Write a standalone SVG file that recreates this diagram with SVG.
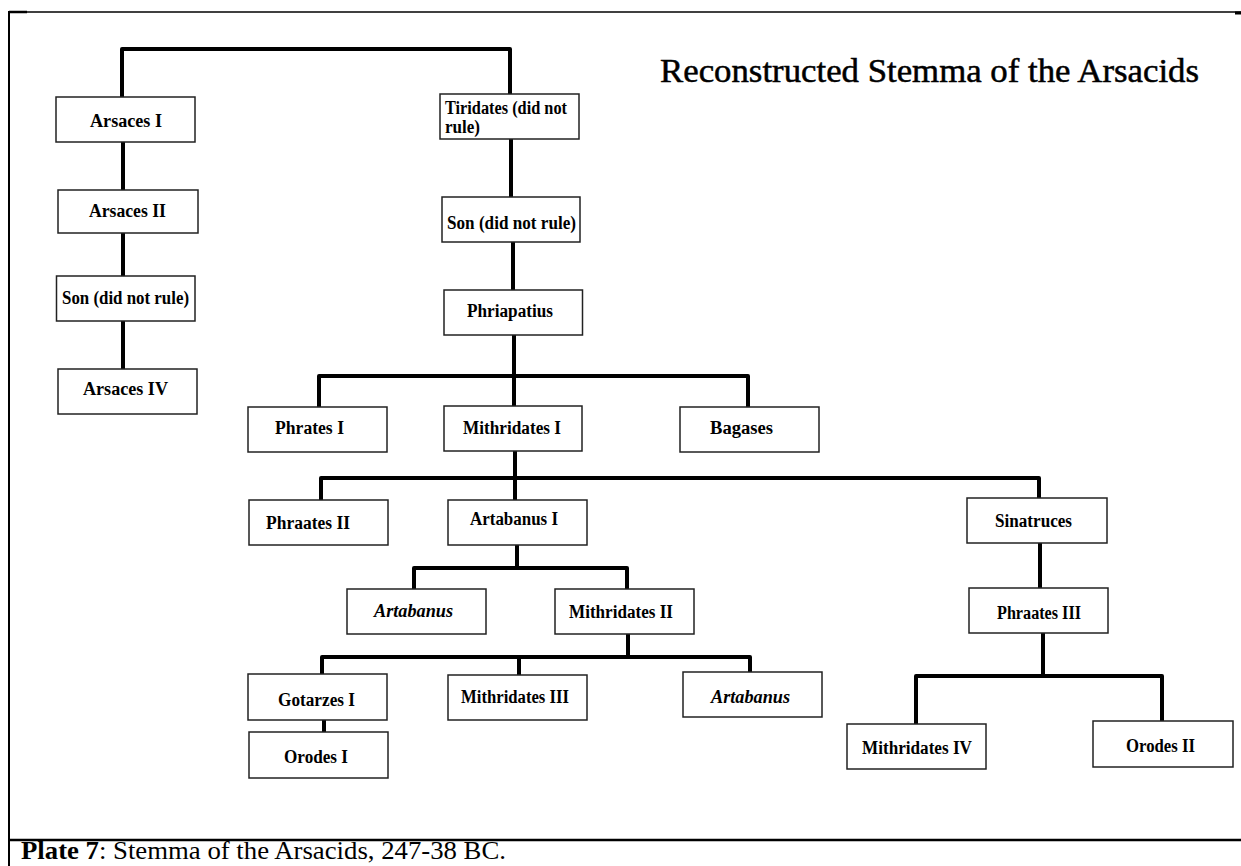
<svg xmlns="http://www.w3.org/2000/svg" width="1241" height="866" viewBox="0 0 1241 866">
<style>
.frame{stroke:#000;fill:none}
.box rect{fill:#fff;stroke:#222;stroke-width:1.5}
.box text{font-family:"Liberation Serif","Times New Roman",serif;font-weight:bold;font-size:18px;fill:#000}
.box text.it{font-style:italic}
.conn path{fill:none;stroke:#000;stroke-width:4;stroke-linejoin:round;stroke-linecap:butt}
.title{font-family:"Liberation Serif","Times New Roman",serif;font-size:33px;fill:#000;stroke:#000;stroke-width:0.5}
.cap{font-family:"Liberation Serif","Times New Roman",serif;font-size:25px;fill:#000}
</style>
<rect x="0" y="0" width="1241" height="866" fill="#fff"/>
<g id="frame">
<line class="frame" x1="9" y1="12" x2="1241" y2="12" stroke-width="1.5"/>
<line class="frame" x1="9" y1="12" x2="27" y2="12" stroke-width="2.5"/>
<line class="frame" x1="1235" y1="13" x2="1241" y2="13" stroke-width="3"/>
<line class="frame" x1="9" y1="11" x2="9" y2="866" stroke-width="2"/>
<line class="frame" x1="8" y1="840" x2="1241" y2="840" stroke-width="2.5"/>
</g>
<text class="title" x="660" y="82" textLength="539" lengthAdjust="spacingAndGlyphs">Reconstructed Stemma of the Arsacids</text>
<g id="connectors" class="conn">
<path d="M122,97 V49 H510 V94"/>
<path d="M123,142 V190"/>
<path d="M123,233 V276"/>
<path d="M123,321 V369"/>
<path d="M511,139 V197"/>
<path d="M513,242 V290"/>
<path d="M514,335 V376"/>
<path d="M319,407 V376 H748 V407"/>
<path d="M514,376 V406"/>
<path d="M515,451 V478"/>
<path d="M321,500 V478 H1039 V498"/>
<path d="M515,478 V500"/>
<path d="M517,545 V568"/>
<path d="M414,589 V568 H627 V589"/>
<path d="M628,634 V657"/>
<path d="M322,674 V657 H750 V672"/>
<path d="M519,657 V675"/>
<path d="M324,720 V732"/>
<path d="M1040,543 V588"/>
<path d="M1043,633 V676"/>
<path d="M916,724 V676 H1162 V721"/>
</g>
<g id="arsaces-i" class="box"><rect x="56" y="97" width="139" height="45"/><text x="90" y="127" textLength="72" lengthAdjust="spacingAndGlyphs">Arsaces I</text></g>
<g id="arsaces-ii" class="box"><rect x="58" y="190" width="140" height="43"/><text x="89" y="217" textLength="77" lengthAdjust="spacingAndGlyphs">Arsaces II</text></g>
<g id="son-left" class="box"><rect x="56.5" y="276" width="138.5" height="45"/><text x="62" y="304" textLength="127" lengthAdjust="spacingAndGlyphs">Son (did not rule)</text></g>
<g id="arsaces-iv" class="box"><rect x="58" y="369" width="139" height="45"/><text x="83" y="395" textLength="85" lengthAdjust="spacingAndGlyphs">Arsaces IV</text></g>
<g id="tiridates" class="box"><rect x="440" y="94" width="139" height="45"/><text x="445" y="114" font-size="16" textLength="122" lengthAdjust="spacingAndGlyphs">Tiridates (did not</text><text x="445" y="133" font-size="16" textLength="35" lengthAdjust="spacingAndGlyphs">rule)</text></g>
<g id="son-right" class="box"><rect x="442" y="197" width="138" height="45"/><text x="447" y="229" textLength="129" lengthAdjust="spacingAndGlyphs">Son (did not rule)</text></g>
<g id="phriapatius" class="box"><rect x="444" y="290" width="138.5" height="45"/><text x="467" y="317" textLength="86" lengthAdjust="spacingAndGlyphs">Phriapatius</text></g>
<g id="phrates-i" class="box"><rect x="248" y="407" width="139" height="45"/><text x="275" y="434" textLength="69" lengthAdjust="spacingAndGlyphs">Phrates I</text></g>
<g id="mithridates-i" class="box"><rect x="444" y="406" width="138" height="45"/><text x="463" y="434" textLength="98" lengthAdjust="spacingAndGlyphs">Mithridates I</text></g>
<g id="bagases" class="box"><rect x="680" y="407" width="139" height="45"/><text x="710" y="434" textLength="63" lengthAdjust="spacingAndGlyphs">Bagases</text></g>
<g id="phraates-ii" class="box"><rect x="249" y="500" width="139" height="45"/><text x="266" y="529" textLength="84" lengthAdjust="spacingAndGlyphs">Phraates II</text></g>
<g id="artabanus-i" class="box"><rect x="448" y="500" width="139" height="45"/><text x="470" y="525" textLength="88" lengthAdjust="spacingAndGlyphs">Artabanus I</text></g>
<g id="sinatruces" class="box"><rect x="967" y="498" width="140" height="45"/><text x="995" y="527" textLength="77" lengthAdjust="spacingAndGlyphs">Sinatruces</text></g>
<g id="artabanus-a" class="box"><rect x="347" y="589" width="139" height="45"/><text class="it" x="374" y="617" textLength="79" lengthAdjust="spacingAndGlyphs">Artabanus</text></g>
<g id="mithridates-ii" class="box"><rect x="555" y="589" width="139" height="45"/><text x="569" y="618" textLength="104" lengthAdjust="spacingAndGlyphs">Mithridates II</text></g>
<g id="phraates-iii" class="box"><rect x="969" y="588" width="139" height="45"/><text x="997" y="619" textLength="84" lengthAdjust="spacingAndGlyphs">Phraates III</text></g>
<g id="gotarzes-i" class="box"><rect x="248" y="674" width="139" height="46"/><text x="278" y="706" textLength="77" lengthAdjust="spacingAndGlyphs">Gotarzes I</text></g>
<g id="mithridates-iii" class="box"><rect x="448" y="675" width="139" height="45"/><text x="461" y="703" textLength="108" lengthAdjust="spacingAndGlyphs">Mithridates III</text></g>
<g id="artabanus-b" class="box"><rect x="683" y="672" width="139" height="45"/><text class="it" x="711" y="703" textLength="79" lengthAdjust="spacingAndGlyphs">Artabanus</text></g>
<g id="orodes-i" class="box"><rect x="249" y="732" width="139" height="46"/><text x="284" y="763" textLength="64" lengthAdjust="spacingAndGlyphs">Orodes I</text></g>
<g id="mithridates-iv" class="box"><rect x="847" y="724" width="139" height="45"/><text x="862" y="754" textLength="110" lengthAdjust="spacingAndGlyphs">Mithridates IV</text></g>
<g id="orodes-ii" class="box"><rect x="1093" y="721" width="140" height="46"/><text x="1126" y="752" textLength="69" lengthAdjust="spacingAndGlyphs">Orodes II</text></g>
<text class="cap" x="21" y="859" textLength="485" lengthAdjust="spacingAndGlyphs"><tspan font-weight="bold">Plate 7</tspan>: Stemma of the Arsacids, 247-38 BC.</text>
</svg>
